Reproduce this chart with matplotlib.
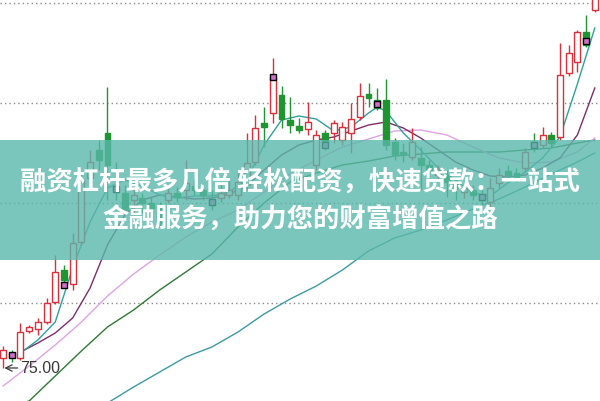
import numpy as np
import matplotlib.pyplot as plt

# candles, one per trading day (index 0 .. 68), prices
opens = [76.0, 76.5, 76.0, 78.7, 78.9, 79.6, 81.6, 84.8, 83.4, 87.6,
         94.0, 96.8, 98.5, 93.2, 92.5, 91.8, 92.0, 91.5, 91.1, 91.8,
         92.5, 92.8, 93.2, 92.8, 91.9, 92.0, 92.3, 92.3, 93.3, 95.6,
         99.5, 100.5, 102.3, 99.8, 99.2, 98.9, 95.3, 98.5, 98.5, 97.8,
         98.5, 100.1, 102.4, 101.8, 101.8, 97.6, 96.6, 96.1, 96.0, 95.3,
         94.3, 94.3, 93.5, 92.6, 92.8, 92.3, 91.6, 93.5, 94.7, 94.5,
         95.0, 97.6, 97.3, 98.3, 98.1, 104.5, 105.6, 108.6, 110.8]
closes = [76.8, 76.1, 78.6, 79.1, 79.6, 81.5, 84.6, 83.8, 87.5, 93.8,
          95.6, 95.8, 95.3, 92.8, 90.8, 92.3, 91.5, 91.0, 89.5, 92.5,
          92.1, 93.5, 92.8, 92.3, 91.3, 92.5, 92.8, 93.6, 95.5, 99.0,
          99.1, 104.1, 99.9, 99.3, 98.8, 99.6, 98.3, 97.6, 99.5, 99.1,
          99.9, 102.2, 102.0, 101.0, 97.3, 96.3, 96.4, 97.6, 95.3, 94.8,
          94.8, 93.6, 93.0, 93.0, 92.3, 91.8, 93.0, 94.3, 94.3, 94.1,
          96.6, 97.1, 98.3, 97.5, 104.3, 106.5, 108.6, 107.3, 112.8]
highs = [77.2, 76.8, 79.5, 79.3, 80.0, 82.0, 86.3, 85.3, 88.5, 94.6,
         96.8, 97.8, 103.1, 95.6, 93.3, 93.0, 92.5, 92.1, 91.6, 93.0,
         93.1, 95.8, 93.8, 93.3, 92.8, 93.3, 94.1, 94.5, 98.5, 100.3,
         101.1, 106.0, 103.2, 102.1, 100.0, 101.6, 98.8, 98.8, 99.8, 99.6,
         101.5, 103.5, 103.5, 103.0, 103.9, 98.0, 97.5, 99.0, 97.1, 95.8,
         95.3, 94.8, 94.0, 93.5, 93.3, 92.8, 94.0, 95.0, 95.3, 95.0,
         97.0, 98.5, 99.1, 98.6, 107.5, 107.3, 108.8, 110.3, 113.8]
lows = [75.0, 75.6, 75.8, 78.5, 78.3, 79.4, 81.4, 83.1, 82.8, 87.3,
        93.3, 94.8, 91.8, 91.8, 90.6, 90.3, 90.5, 90.3, 89.2, 91.5,
        91.6, 91.8, 92.3, 91.8, 90.8, 91.6, 92.0, 91.8, 92.8, 95.3,
        97.1, 99.5, 99.0, 98.5, 98.5, 98.3, 94.8, 96.8, 97.5, 97.3,
        96.5, 99.8, 101.1, 100.8, 96.8, 95.8, 95.6, 95.8, 92.8, 94.1,
        93.8, 92.1, 91.8, 92.0, 91.8, 91.3, 91.0, 93.0, 93.8, 93.6,
        94.6, 96.6, 97.0, 97.1, 97.8, 104.2, 104.6, 107.1, 110.6]

# small flag boxes on some days
flag_days = [1, 7, 13, 24, 31, 37, 43, 55, 61, 67]
flag_prices = [76.3, 83.3, 92.9, 91.6, 104.1, 97.3, 101.4, 92.1, 97.3, 107.7]

# moving average lines, sampled at day indices
ma5_days = [2, 4, 6, 8, 10, 12, 14, 16, 18, 20, 22, 24, 26, 28, 30, 32, 34, 36,
            38, 40, 42, 43, 44, 46, 48, 50, 52, 54, 56, 58, 60, 62, 64, 66, 68]
ma5 = [76.5, 77.8, 79.6, 85.0, 89.6, 93.0, 93.8, 93.2, 92.3, 92.0, 92.2, 92.2,
       92.6, 93.8, 97.3, 99.8, 100.2, 99.9, 98.7, 99.1, 100.5, 101.1, 100.7,
       98.5, 96.8, 95.0, 93.8, 92.5, 92.2, 93.5, 94.6, 96.0, 98.1, 103.4, 109.0]
ma10_days = [2, 4, 6, 8, 10, 12, 14, 16, 18, 20, 22, 24, 26, 28, 30, 32, 34,
             36, 38, 40, 42, 44, 46, 48, 50, 52, 54, 56, 58, 60, 62, 64, 66, 68]
ma10 = [76.6, 77.5, 78.5, 80.0, 83.0, 87.3, 90.3, 91.8, 92.3, 92.1, 91.9, 92.0,
        92.4, 93.2, 94.8, 96.3, 97.3, 97.8, 98.1, 98.7, 99.3, 99.6, 99.0, 98.0,
        96.8, 95.6, 94.8, 94.2, 94.1, 94.3, 95.0, 96.0, 98.3, 103.0]
slow_days = [0, 3, 6, 9, 12, 15, 18, 21, 24, 27, 30, 33, 36, 39, 42, 45, 48,
             51, 54, 57, 60, 63, 66, 68]
ma20 = [73.2, 75.2, 77.3, 79.6, 82.2, 84.4, 86.3, 88.1, 89.6, 90.8, 92.6, 94.4,
        95.8, 97.1, 97.9, 98.7, 98.8, 98.3, 97.1, 96.0, 95.5, 95.6, 96.6, 98.0]
ma30 = [71.0, 71.7, 74.2, 76.7, 79.1, 80.8, 82.8, 84.6, 86.4, 89.1, 91.5, 93.6,
        94.5, 95.3, 95.7, 96.2, 96.4, 96.6, 96.6, 96.6, 96.8, 97.0, 97.5, 97.8]
ma60_days = [12, 15, 18, 21, 24, 27, 30, 33, 36, 39, 42, 45, 48, 51, 54, 57,
             60, 63, 66, 68]
ma60 = [71.5, 73.1, 74.6, 76.1, 77.1, 78.6, 80.4, 81.9, 83.2, 84.8, 86.7, 88.0,
        88.8, 89.8, 90.9, 91.9, 93.1, 94.4, 95.6, 96.5]

grid_levels = [81.5, 91.5, 101.5, 111.5]
low_label = "75.00"
title_1 = "融资杠杆最多几倍 轻松配资，快速贷款：一站式"
title_2 = "金融服务，助力您的财富增值之路"

up_col = "#d9303c"
down_col = "#1e9530"

fig = plt.figure(figsize=(6.0, 4.01), dpi=100)
ax = fig.add_axes([0, 0, 1, 1])
ax.set_xlim(-0.35, 68.6)
ax.set_ylim(71.7, 111.8)
ax.axis("off")

for g in grid_levels:
    ax.axhline(g, color="#8a8a8a", lw=1.0, ls=(0, (1, 2.2)), zorder=1)

days = np.arange(len(opens))
w = 0.68
for d, o, c, h, l in zip(days, opens, closes, highs, lows):
    if c >= o:
        ax.vlines(d, l, o, color=up_col, lw=1.0, zorder=3)
        ax.vlines(d, c, h, color=up_col, lw=1.0, zorder=3)
        ax.add_patch(plt.Rectangle((d - w / 2, o), w, c - o, facecolor="white",
                                   edgecolor=up_col, lw=1.0, zorder=3))
    else:
        ax.vlines(d, l, h, color=down_col, lw=1.0, zorder=3)
        ax.add_patch(plt.Rectangle((d - w / 2, c), w, o - c, facecolor=down_col,
                                   edgecolor=down_col, lw=1.0, zorder=3))

ax.scatter(flag_days, flag_prices, marker="s", s=22, c="#d070c8",
           edgecolors="black", linewidths=1.0, zorder=4)

ax.plot(ma60_days, ma60, color="#3c9aa2", lw=1.0, zorder=2)
ax.plot(slow_days, ma30, color="#2e7a34", lw=1.0, zorder=2)
ax.plot(slow_days, ma20, color="#e2a2e6", lw=1.0, zorder=2)
ax.plot(ma10_days, ma10, color="#7e2c6c", lw=1.0, zorder=2)
ax.plot(ma5_days, ma5, color="#2fa09a", lw=1.0, zorder=2)

ax.annotate(low_label, xy=(0.15, 75.0), xytext=(2.0, 75.0), ha="left", va="center",
            fontsize=11.5, color="#3a3a3a", family="Liberation Sans",
            arrowprops=dict(arrowstyle="->", color="#3a3a3a", lw=0.9,
                            shrinkA=0, shrinkB=0))

# teal banner across the middle
ax.axhspan(85.8, 97.8, facecolor="#5ab8ab", alpha=0.8, lw=0, zorder=6)
fig.text(0.5, 1 - 182 / 401, title_1, ha="center", va="center", fontsize=19,
         fontweight="bold", color="white", family=["Noto Sans CJK SC", "DejaVu Sans"],
         zorder=7)
fig.text(0.5, 1 - 219 / 401, title_2, ha="center", va="center", fontsize=19,
         fontweight="bold", color="white", family=["Noto Sans CJK SC", "DejaVu Sans"],
         zorder=7)

fig.savefig("out.png", dpi=100)
